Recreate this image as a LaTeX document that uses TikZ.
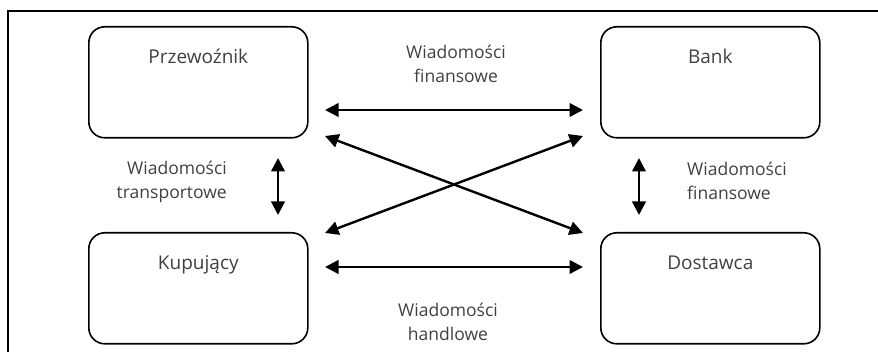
\documentclass[tikz,border=0pt]{standalone}
\usepackage{fontspec}
\setmainfont{Open Sans}
\usetikzlibrary{arrows.meta}
\tikzset{
  party/.style={draw, line width=1.6pt, rounded corners=16pt, inner xsep=0pt, inner ysep=0pt,
    minimum width=219pt, text height=37pt, text depth=74pt, anchor=north west,
    font=\fontsize{19}{24}\selectfont, text=black!75},
  msg/.style={font=\fontsize{17.5}{24}\selectfont, text=black!75, inner sep=0pt},
  flow/.style={line width=2.4pt, {Triangle[length=13.5pt,width=13.5pt]}-{Triangle[length=13.5pt,width=13.5pt]}},
  frameline/.style={line width=1.8pt}
}
\begin{document}
\begin{tikzpicture}[x=1pt,y=-1pt]
\useasboundingbox (0,0) rectangle (878,352);
% outer frame (runs off the right and bottom edges)
\draw[frameline] (8,352) -- (8,11) -- (878,11);

% the four parties
\node[party] (prz) at (88,26)  {Przewoźnik};
\node[party] (bank) at (600,26) {Bank};
\node[party] (kup) at (88,232) {Kupujący};
\node[party] (dos) at (600,232) {Dostawca};

% arrow end points
\coordinate (tl) at (325,110);  \coordinate (tr) at (583,110);
\coordinate (bl) at (325,267);  \coordinate (br) at (583,267);
\coordinate (dtl) at (325,136); \coordinate (dtr) at (583,136);
\coordinate (dbl) at (325,233); \coordinate (dbr) at (583,233);
\coordinate (vlt) at (278,158); \coordinate (vlb) at (278,215);
\coordinate (vrt) at (639,158); \coordinate (vrb) at (639,215);

\draw[flow] (tl) -- (tr);
\draw[flow] (bl) -- (br);
\draw[flow] (dtl) -- (dbr);
\draw[flow] (dbl) -- (dtr);
\draw[flow] (vlt) -- (vlb);
\draw[flow] (vrt) -- (vrb);

% message labels
\node[msg, align=center] (mtop) at (456,64) {Wiadomości\\finansowe};
\node[msg, align=right, anchor=east] (mleft) at (227,182) {Wiadomości\\transportowe};
\node[msg, align=left, anchor=west] (mright) at (687,181) {Wiadomości\\finansowe};
\node[msg, align=center] (mbot) at (448,322) {Wiadomości\\handlowe};
\end{tikzpicture}
\end{document}
